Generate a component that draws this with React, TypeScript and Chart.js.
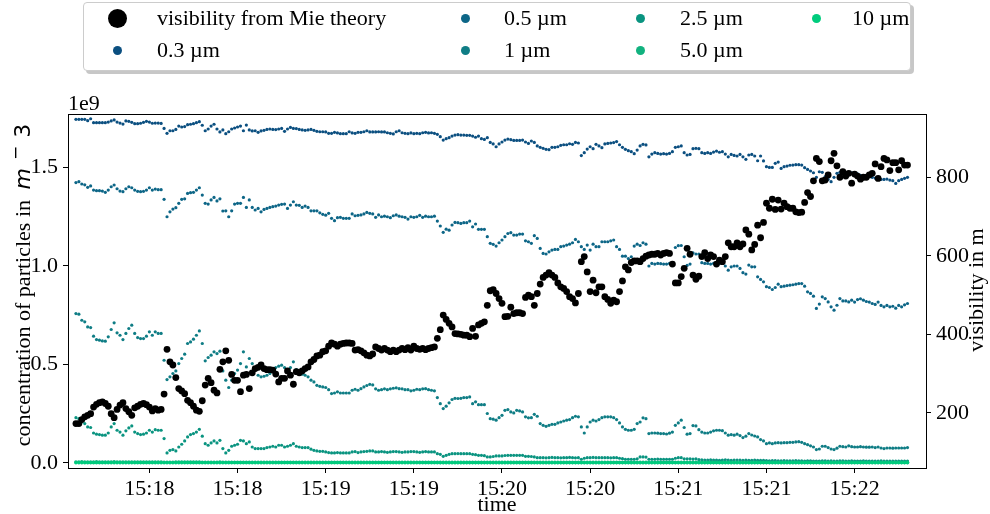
import React, { useEffect, useRef } from 'react';
import { Chart, registerables } from 'chart.js';

Chart.register(...registerables);

// one sample per second, first sample at 15:17:35 (seconds after 15:00:00)
const startSecond = 1055;

// visibility from Mie theory, in m (right axis)
const visibility = [
  173,173,183,190,194,198,215,222,226,228,
  224,217,198,188,209,220,226,211,203,194,
  213,217,222,224,221,215,205,211,207,209,
  248,362,330,322,290,262,256,249,232,226,
  217,207,204,231,271,288,277,258,251,311,
  330,358,334,298,283,283,254,296,298,262,
  302,313,316,322,313,310,310,309,299,279,
  288,288,307,296,273,305,302,307,313,317,
  330,336,345,347,356,358,370,378,375,370,
  375,377,378,378,377,360,
  361,358,353,347,345,350,368,364,360,364,
  360,356,360,356,360,364,361,366,360,370,
  364,362,364,361,364,366,368,390,412,449,
  438,428,419,402,401,400,398,398,394,415,
  395,424,428,432,474,511,514,504,491,479,
  445,446,469,453,455,455,453,494,500,496,
  474,504,528,545,551,557,551,545,531,521,
  517,509,496,491,480,504,585,598,559,509,
  538,506,521,521,496,489,479,487,483,509,
  536,572,564,583,587,587,
  585,593,599,602,604,604,606,602,606,608,
  606,579,531,531,547,568,619,604,551,540,
  548,598,608,593,602,598,579,589,585,598,
  633,623,623,633,623,630,666,655,615,629,
  678,646,685,734,721,744,718,742,719,734,
  725,721,721,712,710,711,736,761,751,791,
  848,840,791,793,806,842,861,829,800,814,
  803,810,785,808,803,795,800,800,806,810,
  834,797,827,848,844,817,837,837,819,842,
  831,831,
];

// particle concentrations, in 1e6 per m^3 (left axis)
const conc03 = [
  1743,1743,1743,1743,1736,1746,1726,1726,1726,1726,
  1726,1729,1735,1740,1729,1724,1719,1735,1733,1728,
  1721,1721,1723,1728,1733,1729,1723,1724,1724,1722,
  1697,1672,1685,1685,1692,1709,1704,1706,1716,1718,
  1721,1726,1731,1713,1685,1694,1709,1718,1694,1679,
  1689,1670,1680,1694,1699,1704,1709,1685,1714,1689,
  1684,1685,1677,1684,1687,1692,1694,1692,1691,1694,
  1697,1682,1694,1702,1697,1696,1692,1689,1687,1689,
  1692,1687,1682,1680,1680,1679,1672,1672,1677,1674,
  1670,1670,1670,1680,1674,1672,
  1677,1677,1680,1685,1679,1679,1679,1680,1679,1679,
  1675,1672,1669,1680,1685,1675,1672,1670,1674,1670,
  1672,1670,1675,1677,1674,1675,1672,1667,1655,1638,
  1645,1650,1658,1663,1665,1663,1663,1662,1662,1658,
  1652,1658,1645,1641,1650,1626,1618,1604,1618,1628,
  1638,1643,1640,1636,1636,1636,1638,1628,1621,1633,
  1626,1608,1601,1596,1591,1589,1601,1601,1604,1611,
  1614,1614,1619,1616,1626,1623,1559,1574,1592,1604,
  1594,1616,1608,1599,1618,1621,1623,1625,1630,1614,
  1601,1591,1584,1579,1569,1587,
  1608,1616,1613,1553,1567,1574,1570,1567,1569,1567,
  1570,1579,1601,1604,1608,1574,1562,1565,1594,1596,
  1594,1574,1570,1574,1570,1577,1582,1576,1579,1567,
  1553,1565,1560,1557,1565,1553,1540,1562,1565,1557,
  1533,1557,1532,1503,1499,1499,1520,1526,1494,1503,
  1506,1510,1511,1513,1513,1511,1498,1489,1481,1472,
  1449,1477,1474,1452,1438,1427,1449,1469,1474,1466,
  1460,1469,1472,1469,1466,1459,1455,1452,1455,1449,
  1445,1440,1438,1438,1440,1435,1432,1418,1432,1438,
  1444,1449,
];

const conc05 = [
  1422,1427,1415,1411,1398,1405,1384,1381,1381,1379,
  1373,1384,1401,1410,1391,1379,1376,1391,1401,1396,
  1384,1378,1376,1378,1384,1396,1384,1389,1386,1386,
  1337,1249,1274,1288,1295,1317,1337,1340,1367,1371,
  1373,1384,1396,1359,1317,1313,1334,1347,1329,1340,
  1278,1279,1249,1279,1313,1317,1317,1347,1296,1334,
  1296,1283,1291,1274,1286,1291,1296,1300,1303,1308,
  1312,1313,1291,1308,1325,1308,1307,1296,1303,1296,
  1279,1279,1279,1269,1261,1257,1266,1241,1229,1244,
  1246,1241,1241,1241,1263,1254,
  1256,1258,1263,1271,1266,1263,1246,1258,1249,1252,
  1249,1244,1254,1258,1252,1249,1246,1237,1249,1246,
  1249,1256,1246,1252,1249,1249,1252,1227,1202,1170,
  1186,1181,1207,1220,1219,1215,1219,1219,1227,1198,
  1212,1185,1185,1185,1148,1114,1109,1100,1117,1131,
  1148,1164,1168,1156,1156,1161,1161,1127,1122,1114,
  1153,1139,1088,1063,1060,1071,1080,1083,1083,1097,
  1100,1105,1110,1117,1134,1122,1097,1083,1105,1080,
  1110,1097,1097,1122,1122,1122,1127,1131,1097,1083,
  1049,1049,1037,1046,1100,1110,
  1103,1117,1110,999,1012,1009,1012,1011,1009,1009,
  1012,1016,1093,1102,1103,1046,1002,1009,1066,1060,
  1060,1016,1012,1012,1009,1012,1016,1012,1021,999,
  978,995,999,999,987,965,958,1004,995,995,
  944,931,919,894,890,880,890,907,894,897,
  900,902,904,907,910,910,897,868,860,846,
  784,806,843,834,817,792,775,800,834,822,
  822,817,826,816,829,833,826,819,816,809,
  804,816,799,792,799,792,795,785,799,792,
  802,809,
];

const conc1 = [
  758,755,724,716,690,687,643,626,623,619,
  618,640,677,711,660,648,626,657,682,699,
  657,636,631,631,643,665,648,665,657,657,
  521,423,437,454,467,504,530,552,606,614,
  628,648,670,606,518,535,547,564,555,567,
  467,420,383,420,454,471,504,564,487,530,
  504,471,445,437,440,445,454,479,484,491,
  496,484,471,484,513,474,450,450,445,437,
  420,411,394,389,386,383,372,352,355,361,
  355,355,355,355,369,374,
  369,377,386,393,399,396,376,369,372,376,
  372,376,379,381,377,376,372,372,366,369,
  374,372,376,377,372,369,366,332,301,276,
  288,305,322,328,327,328,332,332,335,301,
  310,296,296,296,251,225,222,217,230,242,
  267,271,259,254,267,264,259,234,229,230,
  247,237,200,191,186,191,196,196,203,208,
  213,217,220,230,237,234,183,152,183,208,
  217,213,220,230,234,234,234,230,220,203,
  183,171,166,166,171,200,
  208,229,225,149,152,152,151,149,149,147,
  151,157,191,203,217,180,146,149,190,188,
  169,157,152,152,157,163,166,166,164,152,
  141,144,141,146,139,129,136,149,142,137,
  132,119,112,98,102,98,102,103,102,103,
  103,105,105,107,108,105,98,93,87,81,
  68,71,85,85,78,71,68,75,85,83,
  81,87,83,81,81,83,81,80,80,81,
  78,81,76,73,76,76,75,76,76,76,
  76,78,
];

const conc25 = [
  230,225,208,200,183,180,152,146,144,141,
  141,152,183,200,166,157,141,163,178,188,
  157,149,144,146,152,166,157,169,166,166,
  124,51,64,68,61,81,95,112,132,144,
  149,157,171,136,98,90,102,112,102,115,
  73,51,64,85,90,95,115,112,98,107,
  81,73,73,73,73,78,81,85,81,90,
  90,81,85,90,98,85,81,78,78,78,
  70,64,61,59,59,56,53,51,51,53,
  51,51,51,51,56,58,
  53,56,58,59,61,61,56,56,58,56,
  54,56,58,58,56,54,56,56,58,58,
  56,54,56,58,56,56,56,47,44,34,
  39,44,47,47,48,47,47,47,47,44,
  42,39,39,37,31,31,33,36,36,36,
  38,39,39,39,39,39,39,34,34,33,
  31,27,27,27,26,27,28,27,27,26,
  27,27,28,27,26,27,19,24,27,27,
  28,27,27,27,27,27,26,27,27,24,
  22,19,19,19,19,21,
  31,31,30,19,19,19,20,19,19,19,
  19,19,24,27,27,21,21,21,20,21,
  17,16,15,15,16,15,15,14,15,16,
  15,14,15,15,15,14,15,14,14,15,
  14,13,14,12,11,12,12,11,11,12,
  11,11,11,12,11,11,10,11,11,10,
  10,10,11,11,10,11,10,10,11,11,
  10,10,11,10,10,10,11,10,10,10,
  10,10,11,10,10,10,10,10,10,10,
  10,10,
];

const conc50 = [
  5,5,6,5,5,5,5,6,5,5,5,5,5,6,5,5,5,5,5,5,
  5,5,5,5,5,5,5,5,5,5,4,4,4,4,5,5,5,5,5,5,
  5,5,5,4,4,4,4,4,4,5,4,4,4,4,4,4,4,4,4,4,
  4,4,4,4,4,4,4,4,4,4,4,4,4,4,4,4,4,4,4,4,
  4,4,4,4,4,4,4,4,4,4,4,4,4,4,4,4,4,4,4,4,
  4,4,4,4,4,4,4,4,4,4,4,4,4,4,4,4,4,4,4,4,
  4,4,4,4,3,3,3,3,3,3,3,3,3,3,3,3,3,3,3,3,
  3,3,3,3,3,3,3,3,3,3,3,3,3,3,3,3,3,3,3,3,
  3,3,3,3,3,3,3,3,3,3,3,3,3,3,3,3,3,3,3,3,
  3,3,3,3,3,3,3,3,3,3,3,3,3,3,3,3,3,3,3,3,
  3,3,3,3,3,3,3,3,3,3,3,3,3,3,3,3,3,3,3,3,
  3,3,3,3,3,3,3,3,3,3,3,3,3,3,3,3,3,3,3,3,
  3,3,3,3,3,3,3,3,3,3,3,3,3,3,3,3,3,3,3,3,
  3,3,3,3,3,3,3,3,3,3,3,3,3,3,3,3,3,3,3,3,
  3,3,3,3,
];

const conc10 = [
  1,1,1,1,1,1,1,1,1,1,1,1,1,1,1,1,1,1,1,1,
  1,1,1,1,1,1,1,1,1,1,1,1,1,1,1,1,1,1,1,1,
  1,1,1,1,1,1,1,1,1,1,1,1,1,1,1,1,1,1,1,1,
  1,1,1,1,1,1,1,1,1,1,1,1,1,1,1,1,1,1,1,1,
  1,1,1,1,1,1,1,1,1,1,1,1,1,1,1,1,1,1,1,1,
  1,1,1,1,1,1,1,1,1,1,1,1,1,1,1,1,1,1,1,1,
  1,1,1,1,1,1,1,1,1,1,1,1,1,1,1,1,1,1,1,1,
  1,1,1,1,1,1,1,1,1,1,1,1,1,1,1,1,1,1,1,1,
  1,1,1,1,1,1,1,1,1,1,1,1,1,1,1,1,1,1,1,1,
  1,1,1,1,1,1,1,1,1,1,1,1,1,1,1,1,1,1,1,1,
  1,1,1,1,1,1,1,1,1,1,1,1,1,1,1,1,1,1,1,1,
  1,1,1,1,1,1,1,1,1,1,1,1,1,1,1,1,1,1,1,1,
  1,1,1,1,1,1,1,1,1,1,1,1,1,1,1,1,1,1,1,1,
  1,1,1,1,1,1,1,1,1,1,1,1,1,1,1,1,1,1,1,1,
  1,1,1,1,
];

const sizeLabels = ['0.3 µm', '0.5 µm', '1 µm', '2.5 µm', '5.0 µm', '10 µm'];
const sizeColors = ['#0b4f80', '#0d6687', '#0f7d85', '#0a9480', '#12b27f', '#00cc7d'];
const sizeSeries = [conc03, conc05, conc1, conc25, conc50, conc10];

const timeTicks = [1080, 1110, 1140, 1170, 1200, 1230, 1260, 1290, 1320];
const leftTicks = [0, 0.5, 1.0, 1.5];
const rightTicks = [200, 400, 600, 800];

const SERIF = '"Liberation Serif", "Times New Roman", serif';
const FS = 22;

const fmtTime = (v: number) => {
  const totalMin = Math.floor(v / 60);
  const h = 15 + Math.floor(totalMin / 60);
  const m = totalMin % 60;
  return `${h}:${String(m).padStart(2, '0')}`;
};

const decorPlugin = {
  id: 'decor',
  afterDraw(chart: any) {
    const { ctx, chartArea } = chart;
    const { left, right, top } = chartArea;
    ctx.save();
    ctx.strokeStyle = '#000';
    ctx.lineWidth = 1;
    ctx.beginPath();
    ctx.moveTo(left, top + 0.5);
    ctx.lineTo(right, top + 0.5);
    ctx.stroke();

    ctx.fillStyle = '#000';
    ctx.font = `${FS}px ${SERIF}`;
    ctx.textBaseline = 'alphabetic';
    ctx.textAlign = 'left';
    ctx.fillText('1e9', left, 110);
    ctx.textAlign = 'center';
    ctx.fillText('time', (left + right) / 2, 511);

    ctx.save();
    ctx.translate(983, 290);
    ctx.rotate(-Math.PI / 2);
    ctx.textAlign = 'center';
    ctx.fillText('visibility in m', 0, 0);
    ctx.restore();

    // left title with math part m^-3
    ctx.save();
    ctx.translate(30, 285);
    ctx.rotate(-Math.PI / 2);
    ctx.textAlign = 'left';
    const p1 = 'concentration of particles in ';
    const f1 = `${FS}px ${SERIF}`;
    const f2 = `italic 22px "DejaVu Sans", sans-serif`;
    const f3 = `17px "DejaVu Sans", sans-serif`;
    const f4 = `22px "DejaVu Sans", sans-serif`;
    ctx.font = f1; const w1 = ctx.measureText(p1).width;
    ctx.font = f2; const w2 = ctx.measureText('m').width;
    ctx.font = f3; const w3 = ctx.measureText('−').width;
    ctx.font = f4; const w4 = ctx.measureText('3').width;
    const gap = 8;
    const total = w1 + 5 + w2 + w3 + gap * 2 + w4;
    let x = -total / 2;
    ctx.font = f1; ctx.fillText(p1, x, 0); x += w1 + 5;
    ctx.font = f2; ctx.fillText('m', x, 0); x += w2 + gap;
    ctx.font = f3; ctx.fillText('−', x, -9); x += w3 + gap;
    ctx.font = f4; ctx.fillText('3', x, 0);
    ctx.restore();

    ctx.restore();
  },
};

function Legend() {
  const items = [
    { label: 'visibility from Mie theory', color: '#000', r: 9.5, cx: 117, cy: 18, tx: 157 },
    { label: sizeLabels[0], color: sizeColors[0], r: 4.5, cx: 117, cy: 50, tx: 157 },
    { label: sizeLabels[1], color: sizeColors[1], r: 4.5, cx: 465, cy: 18, tx: 504 },
    { label: sizeLabels[2], color: sizeColors[2], r: 4.5, cx: 465, cy: 50, tx: 504 },
    { label: sizeLabels[3], color: sizeColors[3], r: 4.5, cx: 640, cy: 18, tx: 680 },
    { label: sizeLabels[4], color: sizeColors[4], r: 4.5, cx: 640, cy: 50, tx: 680 },
    { label: sizeLabels[5], color: sizeColors[5], r: 4.5, cx: 816, cy: 18, tx: 852 },
  ];
  return (
    <div>
      <div
        style={{
          position: 'absolute', left: 86, top: 5, width: 828, height: 69,
          background: 'rgba(0,0,0,0.22)', borderRadius: 4,
        }}
      />
      <div
        style={{
          position: 'absolute', left: 83, top: 2, width: 828, height: 69,
          background: '#fff', border: '1px solid #cccccc', borderRadius: 4,
          boxSizing: 'border-box',
        }}
      />
      {items.map((it) => (
        <React.Fragment key={it.label}>
          <div
            style={{
              position: 'absolute', left: it.cx - it.r, top: it.cy - it.r,
              width: it.r * 2, height: it.r * 2, borderRadius: '50%', background: it.color,
            }}
          />
          <div
            style={{
              position: 'absolute', left: it.tx, top: it.cy - 11, fontFamily: SERIF,
              fontSize: FS, lineHeight: '22px', whiteSpace: 'nowrap', color: '#000',
            }}
          >
            {it.label}
          </div>
        </React.Fragment>
      ))}
    </div>
  );
}

export default function App() {
  const canvasRef = useRef<HTMLCanvasElement | null>(null);

  useEffect(() => {
    if (!canvasRef.current) return;
    const toPoints = (arr: number[], scale: number) =>
      arr.map((v, i) => ({ x: startSecond + i, y: v * scale }));

    const datasets: any[] = [
      {
        label: 'visibility from Mie theory',
        data: toPoints(visibility, 1),
        yAxisID: 'y2',
        backgroundColor: '#000',
        borderWidth: 0,
        pointRadius: 3.4,
        order: 0,
      },
    ];
    sizeSeries.forEach((arr, k) => {
      datasets.push({
        label: sizeLabels[k],
        data: toPoints(arr, 1e6),
        yAxisID: 'y',
        backgroundColor: sizeColors[k],
        borderWidth: 0,
        pointRadius: k >= 4 ? 1.8 : 1.6,
        order: 6 - k,
      });
    });

    const tickFont = { family: SERIF, size: FS };
    const chart = new Chart(canvasRef.current, {
      type: 'scatter',
      data: { datasets },
      plugins: [decorPlugin],
      options: {
        animation: false,
        responsive: false,
        devicePixelRatio: 1,
        events: [],
        layout: { padding: { top: 114, left: 0, right: 0, bottom: 0 } },
        plugins: { legend: { display: false }, tooltip: { enabled: false } },
        scales: {
          x: {
            type: 'linear',
            min: 1052.3,
            max: 1344.3,
            afterBuildTicks: (axis: any) => { axis.ticks = timeTicks.map((v) => ({ value: v })); },
            afterFit: (axis: any) => { axis.height = 46; },
            ticks: {
              callback: (v: any) => fmtTime(Number(v)),
              font: tickFont, color: '#000', maxRotation: 0, autoSkip: false, padding: 3,
            },
            grid: { drawOnChartArea: false, drawTicks: true, tickLength: 5, tickColor: '#000', tickWidth: 1 },
            border: { display: true, color: '#000', width: 1 },
          },
          y: {
            position: 'left',
            min: -0.0254e9,
            max: 1.770e9,
            afterBuildTicks: (axis: any) => { axis.ticks = leftTicks.map((v) => ({ value: v * 1e9 })); },
            afterFit: (axis: any) => { axis.width = 68; },
            ticks: {
              callback: (v: any) => (Number(v) / 1e9).toFixed(1),
              font: tickFont, color: '#000', autoSkip: false, padding: 5,
            },
            grid: { drawOnChartArea: false, drawTicks: true, tickLength: 5, tickColor: '#000', tickWidth: 1 },
            border: { display: true, color: '#000', width: 1 },
          },
          y2: {
            position: 'right',
            min: 59.8,
            max: 961,
            afterBuildTicks: (axis: any) => { axis.ticks = rightTicks.map((v) => ({ value: v })); },
            afterFit: (axis: any) => { axis.width = 64; },
            ticks: {
              callback: (v: any) => String(v),
              font: tickFont, color: '#000', autoSkip: false, padding: 5,
            },
            grid: { drawOnChartArea: false, drawTicks: true, tickLength: 5, tickColor: '#000', tickWidth: 1 },
            border: { display: true, color: '#000', width: 1 },
          },
        },
      } as any,
    });
    return () => chart.destroy();
  }, []);

  return (
    <div style={{ position: 'absolute', left: 0, top: 0, width: 990, height: 514, background: '#fff' }}>
      <canvas ref={canvasRef} width={990} height={514} style={{ position: 'absolute', left: 0, top: 0 }} />
      <Legend />
    </div>
  );
}
